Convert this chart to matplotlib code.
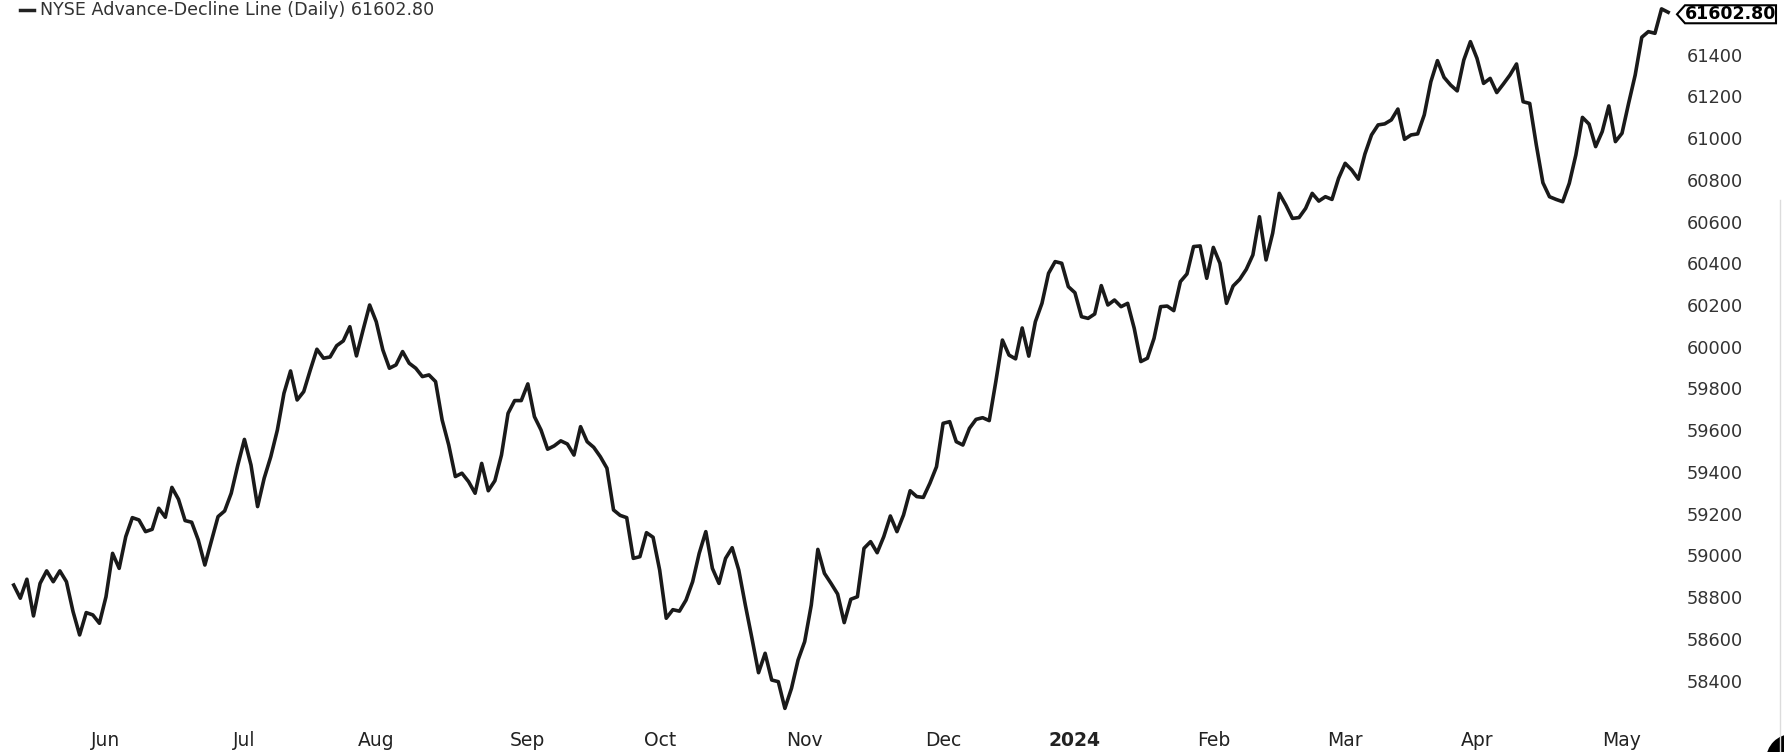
import numpy as np
import pandas as pd
import matplotlib
matplotlib.use("Agg")
import matplotlib.pyplot as plt
from matplotlib.patches import Polygon, Circle
from matplotlib.lines import Line2D
from matplotlib.transforms import IdentityTransform

# NYSE trading days, 2023-05-11 .. 2024-05-10
holidays = ["2023-05-29", "2023-06-19", "2023-07-04", "2023-09-04", "2023-11-23",
            "2023-12-25", "2024-01-01", "2024-01-15", "2024-02-19", "2024-03-29"]
dates = pd.bdate_range("2023-05-11", "2024-05-10").drop(pd.to_datetime(holidays))

# advance-decline line
may23 = [58858, 58795, 58886, 58710, 58866, 58926, 58874, 58926, 58874, 58731,
         58619, 58726, 58715, 58675]
jun23 = [58802, 59010, 58938, 59090, 59181, 59170, 59114, 59125, 59226, 59183,
         59326, 59269, 59167, 59159, 59074, 58954, 59071, 59186, 59213, 59298, 59433]
jul23 = [59556, 59433, 59234, 59370, 59473, 59601, 59777, 59884, 59745, 59785,
         59889, 59988, 59945, 59951, 60005, 60028, 60096, 59956, 60080, 60200]
aug23 = [60120, 59985, 59897, 59913, 59977, 59921, 59897, 59857, 59865, 59833,
         59649, 59529, 59378, 59394, 59354, 59298, 59441, 59310, 59358, 59481,
         59681, 59742, 59742]
sep23 = [59822, 59665, 59601, 59509, 59525, 59549, 59534, 59481, 59617, 59545,
         59518, 59473, 59418, 59218, 59192, 59181, 58986, 58994, 59109, 59087]
oct23 = [58930, 58699, 58740, 58733, 58786, 58874, 59010, 59114, 58938, 58866,
         58986, 59037, 58930, 58762, 58603, 58438, 58531, 58403, 58395, 58267,
         58363, 58499]
nov23 = [58587, 58762, 59029, 58914, 58866, 58815, 58678, 58790, 58802, 59034,
         59066, 59013, 59090, 59189, 59114, 59194, 59310, 59282, 59278, 59346, 59425]
dec23 = [59633, 59641, 59545, 59529, 59609, 59652, 59660, 59646, 59833, 60032,
         59960, 59942, 60090, 59955, 60120, 60208, 60352, 60408, 60400, 60288]
jan24 = [60259, 60144, 60136, 60157, 60293, 60200, 60224, 60192, 60208, 60088,
         59929, 59945, 60040, 60192, 60195, 60173, 60312, 60349, 60480, 60483, 60328]
feb24 = [60476, 60400, 60208, 60291, 60323, 60371, 60440, 60623, 60416, 60544,
         60735, 60679, 60615, 60619, 60663, 60735, 60698, 60719, 60706, 60807]
mar24 = [60879, 60847, 60803, 60924, 61015, 61063, 61068, 61087, 61139, 60994,
         61015, 61020, 61111, 61270, 61371, 61291, 61254, 61226, 61374, 61462]
apr24 = [61382, 61262, 61286, 61218, 61259, 61302, 61355, 61174, 61166, 60967,
         60786, 60719, 60706, 60695, 60783, 60919, 61099, 61067, 60959, 61031,
         61154, 60983]
may24 = [61023, 61166, 61302, 61483, 61510, 61502, 61619, 61602.80]

values = np.array(may23 + jun23 + jul23 + aug23 + sep23 + oct23 + nov23 + dec23
                  + jan24 + feb24 + mar24 + apr24 + may24)
assert len(values) == len(dates)
x = np.arange(len(dates))

y_ticks = np.arange(58400, 61401, 200)
title = "NYSE Advance-Decline Line (Daily) 61602.80"

W, H = 1784, 752
fig = plt.figure(figsize=(W / 100, H / 100), dpi=100)
fig.patch.set_facecolor("white")
ax = fig.add_axes([0, 27 / H, 1680 / W, 725 / H])

ax.plot(x, values, color="#1a1a1a", lw=2.6, solid_joinstyle="round")
ax.set_xlim(-2.08, 252.8)
ax.set_ylim(58187.4, 61661.6)

for s in ax.spines.values():
    s.set_visible(False)

ax.yaxis.tick_right()
ax.set_yticks(y_ticks)
ax.set_yticklabels([str(v) for v in y_ticks])
ax.tick_params(axis="y", length=0, pad=5, labelsize=12.8, labelcolor="#333333")

# first trading day of each full month
month_key = dates.to_period("M")
first_idx = [i for i in range(1, len(dates)) if month_key[i] != month_key[i - 1]]
month_labels = [dates[i].strftime("%Y") if dates[i].month == 1 else dates[i].strftime("%b")
                for i in first_idx]
ax.set_xticks(first_idx)
ax.set_xticklabels(month_labels)
ax.tick_params(axis="x", length=0, pad=4, labelsize=13.5, labelcolor="#222222")
for lab in ax.get_xticklabels():
    if lab.get_text() == "2024":
        lab.set_fontweight("bold")

# legend-like title in the corner
fig.add_artist(Line2D([20 / W, 34 / W], [1 - 10 / H, 1 - 10 / H],
                      transform=fig.transFigure, color="#222222", lw=2.5))
fig.text(40 / W, 1 - 10 / H, title, ha="left", va="center",
         fontsize=12.6, color="#333333")

# last value tag on the price axis
yc = ax.transData.transform((0, values[-1]))[1] - 2
tag = Polygon([(1677, yc), (1685, yc + 9), (1776, yc + 9), (1776, yc - 9), (1685, yc - 9)],
              closed=True, transform=IdentityTransform(), facecolor="white",
              edgecolor="black", lw=1.5)
fig.add_artist(tag)
fig.text(1731 / W, yc / H, f"{values[-1]:.2f}", ha="center", va="center",
         fontsize=12.5, fontweight="bold", color="black")

fig.add_artist(Line2D([1780, 1780], [0, 552], transform=IdentityTransform(),
                      color="#dcdcdc", lw=1))
fig.add_artist(Circle((1792, -8), 26, transform=IdentityTransform(),
                      facecolor="black", edgecolor="none"))

fig.savefig("out.png", dpi=100, facecolor="white")
